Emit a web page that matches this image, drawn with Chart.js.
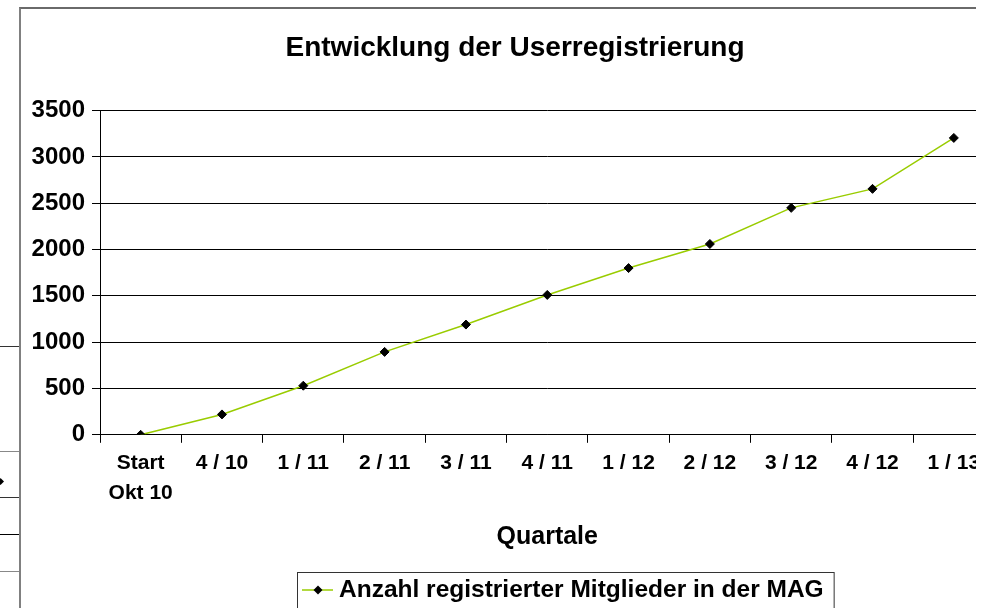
<!DOCTYPE html>
<html>
<head>
<meta charset="utf-8">
<script src="https://cdn.jsdelivr.net/npm/chart.js@4.4.0/dist/chart.umd.min.js"></script>
<style>
  html, body { margin:0; padding:0; background:#fff; overflow:hidden; }
  #wrap { position:relative; width:996px; height:608px; overflow:hidden; }
  #frame { position:absolute; left:19px; top:7px; width:957px; height:700px;
           border-left:2px solid #808080; border-top:2px solid #6a6a6a; }
  .rest { position:absolute; left:0; width:19px; height:1px; background:#333; }
  #mark { position:absolute; left:-2px; top:479px; width:5px; height:5px; background:#000; transform:rotate(45deg); }
  #chart { position:absolute; left:0; top:0; }
  #cut { position:absolute; left:976px; top:0; width:40px; height:608px; background:#fff; }
</style>
</head>
<body>
<div id="wrap">
  <div id="frame"></div>
  <div class="rest" style="top:346px"></div>
  <div class="rest" style="top:451px;background:#888"></div>
  <div class="rest" style="top:497px"></div>
  <div class="rest" style="top:534px;background:#000"></div>
  <div class="rest" style="top:571px;background:#888"></div>
  <div id="mark"></div>
  <canvas id="chart" width="1000" height="608"></canvas>
  <div id="cut"></div>
</div>
<script>
// quarters on the x axis
const quarters = [['Start', 'Okt 10'], '4 / 10', '1 / 11', '2 / 11', '3 / 11', '4 / 11',
                  '1 / 12', '2 / 12', '3 / 12', '4 / 12', '1 / 13'];
// registered members per quarter
const members = [0, 220, 530, 895, 1190, 1510, 1800, 2060, 2450, 2655, 3205];
const yTicks = [0, 500, 1000, 1500, 2000, 2500, 3000, 3500];
const seriesName = 'Anzahl registrierter Mitglieder in der MAG';

const fontFamily = "'Liberation Sans', Arial, sans-serif";
Chart.defaults.font.family = fontFamily;
Chart.defaults.color = '#000';

// excel style legend with a frame round it
const legendBox = {
  id: 'legendBox',
  afterDraw(chart) {
    const ctx = chart.ctx;
    const ds = chart.data.datasets[0];
    const left = 297, top = 572, cy = 590;
    ctx.save();
    ctx.font = 'bold 24.5px ' + fontFamily;
    const w = ctx.measureText(ds.label).width;
    ctx.strokeStyle = '#333';
    ctx.lineWidth = 1;
    ctx.strokeRect(left + 0.5, top + 0.5, 42 + w + 10, 60);
    ctx.strokeStyle = ds.borderColor;
    ctx.lineWidth = ds.borderWidth;
    ctx.beginPath();
    ctx.moveTo(left + 5, cy);
    ctx.lineTo(left + 36, cy);
    ctx.stroke();
    // diamond marker
    const r = ds.pointRadius;
    ctx.fillStyle = '#000';
    ctx.beginPath();
    ctx.moveTo(left + 21, cy - r);
    ctx.lineTo(left + 21 + r, cy);
    ctx.lineTo(left + 21, cy + r);
    ctx.lineTo(left + 21 - r, cy);
    ctx.closePath();
    ctx.fill();
    ctx.textBaseline = 'middle';
    ctx.textAlign = 'left';
    ctx.fillText(ds.label, left + 42, cy);
    ctx.restore();
  }
};

new Chart(document.getElementById('chart'), {
  type: 'line',
  data: {
    labels: quarters,
    datasets: [{
      label: seriesName,
      data: members,
      borderColor: '#99cc00',
      borderWidth: 1.5,
      pointStyle: 'rectRot',
      pointRadius: 4.5,
      pointBackgroundColor: '#000',
      pointBorderColor: '#000',
      pointBorderWidth: 1,
      tension: 0
    }]
  },
  options: {
    responsive: false,
    animation: false,
    layout: { padding: { left: 32, right: 2, top: 0, bottom: 0 } },
    plugins: {
      legend: { display: false },
      tooltip: { enabled: false },
      title: {
        display: true,
        text: 'Entwicklung der Userregistrierung',
        color: '#000',
        font: { size: 28, weight: 'bold' },
        padding: { top: 31, bottom: 46 }
      }
    },
    scales: {
      x: {
        offset: true,
        grid: { offset: true, drawOnChartArea: false, color: '#000', tickLength: 8 },
        border: { color: '#000' },
        ticks: { color: '#000', font: { size: 21, weight: 'bold', lineHeight: 1.43 },
                 padding: 5, maxRotation: 0, autoSkip: false },
        title: { display: true, text: 'Quartale', color: '#000',
                 font: { size: 25, weight: 'bold' }, padding: { top: 0, bottom: 56 } },
        afterFit(s) { s.height = 173.2; }
      },
      y: {
        min: 0,
        max: 3500,
        afterBuildTicks(s) { s.ticks = yTicks.map(v => ({ value: v })); },
        grid: { color: '#000', tickLength: 8 },
        border: { color: '#000' },
        ticks: { color: '#000', font: { size: 24, weight: 'bold' }, padding: 7,
                 callback: v => String(v) },
        afterFit(s) { s.width = 68; }
      }
    }
  },
  plugins: [legendBox]
});
</script>
</body>
</html>
